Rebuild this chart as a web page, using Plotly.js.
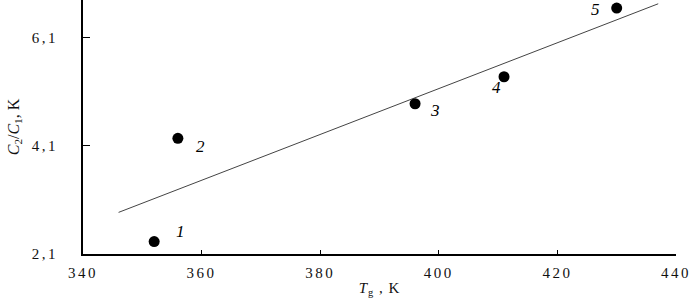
<!DOCTYPE html>
<html>
<head>
<meta charset="utf-8">
<script src="https://cdn.plot.ly/plotly-3.0.1.min.js"></script>
<style>
html,body{margin:0;padding:0;background:#fff;}
#chart{width:693px;height:302px;}
#chart .xtick text, #chart .ytick text{letter-spacing:2.5px;}
#chart .xtitle{letter-spacing:1px;}
</style>
</head>
<body>
<div id="chart"></div>
<script>
// Data
const pointX = [352, 356, 396, 411, 430];
const pointY = [2.33, 4.24, 4.88, 5.38, 6.65];
const pointLabels = ['1', '2', '3', '4', '5'];
const fitX = [346, 437];
const fitY = [2.87, 6.73];
const xTickVals = [340, 360, 380, 400, 420, 440];
const yTickVals = [2.1, 4.1, 6.1];
const yTickText = ['2,1', '4,1', '6,1'];

// label offsets in pixels (style, not data)
const labelShift = [[26, 10], [23, -8], [20, -7], [-8, -11], [-21, -1]];

const FONT = 'Liberation Serif, Times New Roman, serif';

const traces = [
  {
    x: fitX, y: fitY, type: 'scatter', mode: 'lines',
    line: {color: '#444', width: 1}, hoverinfo: 'skip'
  },
  {
    x: pointX, y: pointY, type: 'scatter', mode: 'markers',
    marker: {color: '#000', size: 11, symbol: 'circle'},
    cliponaxis: false
  }
];

const annotations = pointX.map((xv, i) => ({
  x: xv, y: pointY[i], xref: 'x', yref: 'y',
  text: '<i>' + pointLabels[i] + '</i>', showarrow: false,
  xshift: labelShift[i][0], yshift: labelShift[i][1],
  font: {family: FONT, size: 17, color: '#000'}
}));

const layout = {
  width: 693, height: 302,
  margin: {l: 83, r: 17, t: 0, b: 48, pad: 0},
  paper_bgcolor: '#fff', plot_bgcolor: '#fff',
  showlegend: false,
  font: {family: FONT, color: '#000'},
  xaxis: {
    range: [340, 440], tickvals: xTickVals, ticks: 'inside', ticklen: 4,
    tickwidth: 1, tickcolor: '#000',
    showline: true, linecolor: '#000', linewidth: 2, showgrid: false, zeroline: false,
    tickfont: {family: FONT, size: 15, color: '#111'}, ticklabelstandoff: 4,
    title: {text: '<i>T</i><sub>g</sub> , K', font: {family: FONT, size: 15, color: '#111'}, standoff: 2}
  },
  yaxis: {
    range: [2.1, 6.8], tickvals: yTickVals, ticktext: yTickText, ticks: 'inside', ticklen: 7,
    tickwidth: 1, tickcolor: '#000',
    showline: true, linecolor: '#000', linewidth: 2, showgrid: false, zeroline: false,
    tickfont: {family: FONT, size: 15, color: '#111'}, ticklabelstandoff: 20,
    title: {text: '<i>C</i><sub>2</sub>/<i>C</i><sub>1</sub>, K', font: {family: FONT, size: 16, color: '#111'}, standoff: 16}
  },
  annotations: annotations
};

Plotly.newPlot('chart', traces, layout, {displayModeBar: false, staticPlot: true});
</script>
</body>
</html>
